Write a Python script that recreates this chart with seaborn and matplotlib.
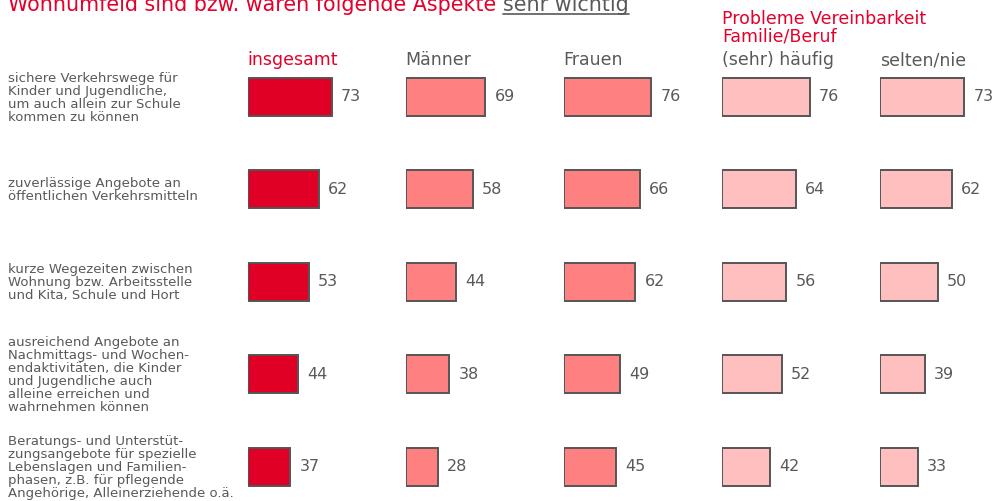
import matplotlib
matplotlib.use("Agg")
import matplotlib.pyplot as plt
import matplotlib.transforms as mtransforms
import seaborn as sns
import pandas as pd

categories = [
    "sichere Verkehrswege für\nKinder und Jugendliche,\num auch allein zur Schule\nkommen zu können",
    "zuverlässige Angebote an\nöffentlichen Verkehrsmitteln",
    "kurze Wegezeiten zwischen\nWohnung bzw. Arbeitsstelle\nund Kita, Schule und Hort",
    "ausreichend Angebote an\nNachmittags- und Wochen-\nendaktivitäten, die Kinder\nund Jugendliche auch\nalleine erreichen und\nwahrnehmen können",
    "Beratungs- und Unterstüt-\nzungsangebote für spezielle\nLebenslagen und Familien-\nphasen, z.B. für pflegende\nAngehörige, Alleinerziehende o.ä.",
]
insgesamt = [73, 62, 53, 44, 37]
maenner = [69, 58, 44, 38, 28]
frauen = [76, 66, 62, 49, 45]
haeufig = [76, 64, 56, 52, 42]
selten = [73, 62, 50, 39, 33]

series_names = ["insgesamt", "Männer", "Frauen", "(sehr) häufig", "selten/nie"]
series_values = [insgesamt, maenner, frauen, haeufig, selten]
colors = ["#E00025", "#FF8080", "#FF8080", "#FFBFBF", "#FFBFBF"]
header_colors = ["#E4002B", "#595959", "#595959", "#595959", "#595959"]

TEXT = "#595959"
RED = "#E4002B"

W, H = 993, 501
fig = plt.figure(figsize=(W / 100, H / 100), dpi=100)
sns.set_style("white")
plt.rcParams["font.family"] = ["DejaVu Sans"]

px_per_unit = 1.155
row_h = 92.4
first_center = 97.0
ax_w_px = 150
top_px = first_center - row_h / 2
ax_h_px = row_h * 5

axes = []
for i, (name, vals) in enumerate(zip(series_names, series_values)):
    left_px = 247.5 + 158.1 * i
    ax = fig.add_axes([left_px / W, 1 - (top_px + ax_h_px) / H, ax_w_px / W, ax_h_px / H])
    df = pd.DataFrame({"cat": categories, "val": vals})
    sns.barplot(data=df, x="val", y="cat", orient="h", ax=ax, color=colors[i],
                saturation=1, edgecolor="#555555", linewidth=1.4, width=0.41)
    ax.set_xlim(0, ax_w_px / px_per_unit)
    ax.set_ylim(4.5, -0.5)
    ax.axis("off")
    for j, v in enumerate(vals):
        ax.text(v + 8, j, f"{v}", va="center", ha="left", fontsize=11.5, color=TEXT)
    ax.text(0, -0.4, name, transform=ax.transData, ha="left", va="center",
            fontsize=12.5, color=header_colors[i])
    axes.append(ax)

# category labels
tr = mtransforms.blended_transform_factory(fig.transFigure, axes[0].transData)
for j, c in enumerate(categories):
    fig.text(8 / W, j + 0.01, c, transform=tr, ha="left", va="center", fontsize=9.5,
             color=TEXT, linespacing=1.0)

# group header
fig.text(722 / W, 1 - 28 / H, "Probleme Vereinbarkeit\nFamilie/Beruf", ha="left",
         va="center", fontsize=12.5, color=RED, linespacing=0.95)

# title
t1 = fig.text(8 / W, 1 - 11 / H, "Wohnumfeld sind bzw. waren folgende Aspekte ",
              ha="left", va="baseline", fontsize=14.9, color=RED)
fig.canvas.draw()
r = fig.canvas.get_renderer()
bb = t1.get_window_extent(r)
x2 = bb.x1 / W
t2 = fig.text(x2, 1 - 11 / H, "sehr wichtig", ha="left", va="baseline",
              fontsize=14.9, color=TEXT)
bb2 = t2.get_window_extent(r)
fig.add_artist(plt.Line2D([bb2.x0 / W, bb2.x1 / W], [1 - 13.5 / H, 1 - 13.5 / H],
                          transform=fig.transFigure, color=TEXT, linewidth=1.2))

fig.savefig("out.png", dpi=100)
